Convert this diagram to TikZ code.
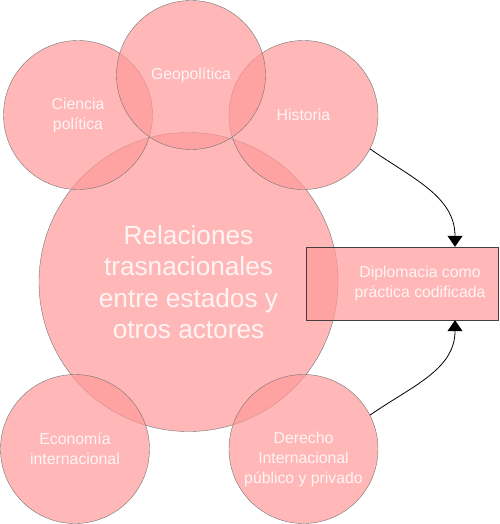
\documentclass[tikz,border=0pt]{standalone}
\usepackage{fontspec}
\setmainfont{Liberation Sans}
\usetikzlibrary{arrows.meta}
\definecolor{rosa}{RGB}{255,153,153}

\begin{document}
\begin{tikzpicture}[x=1pt, y=1pt, >={Triangle[length=11pt,width=15pt]},
		area/.style={circle, draw=black!55, fill=rosa, fill opacity=0.7, text opacity=0.85, text=white, inner sep=0pt, align=center},
		small/.style={font=\fontsize{15.8}{20}\selectfont},
		txt/.style={text=white, text opacity=0.85, align=center, small}]
		\useasboundingbox (0,0) rectangle (499,-524);
		% central circle
		\node[area, minimum size=299pt, font=\fontsize{26.2}{31.5}\selectfont] (rel) at (188.5,-282)
			{Relaciones\\trasnacionales\\entre estados y\\otros actores};
		% surrounding disciplines
		\foreach \nm/\x/\y/\lab in {ciencia/78/115/{Ciencia\\política}, historia/303.5/115/Historia, geo/191/75/Geopolítica, economia/75/449/{Economía\\internacional}} {
			\node[area, small, minimum size=149pt] (\nm) at (\x,-\y) {\lab};
		}
		\node[area, minimum size=149pt] (derecho) at (303.5,-449) {};
		\node[txt] (dertxt) at ([yshift=-10pt]derecho.center) {Derecho\\Internacional\\público y privado};
		% diplomacy box
		\node[draw=black!75, fill=rosa, fill opacity=0.7, minimum width=192pt, minimum height=73pt, inner sep=0pt] (diplo) at (402,-283.5) {};
		\node[txt] (diptxt) at ([xshift=18pt]diplo.center) {Diplomacia como\\práctica codificada};
		\draw[->, line width=0.8pt] (historia.-27) to[out=-35, in=90] ([xshift=53pt]diplo.north);
		\draw[->, line width=0.8pt] (derecho.27) to[out=35, in=-90] ([xshift=53pt]diplo.south);
	\end{tikzpicture}
\end{document}
